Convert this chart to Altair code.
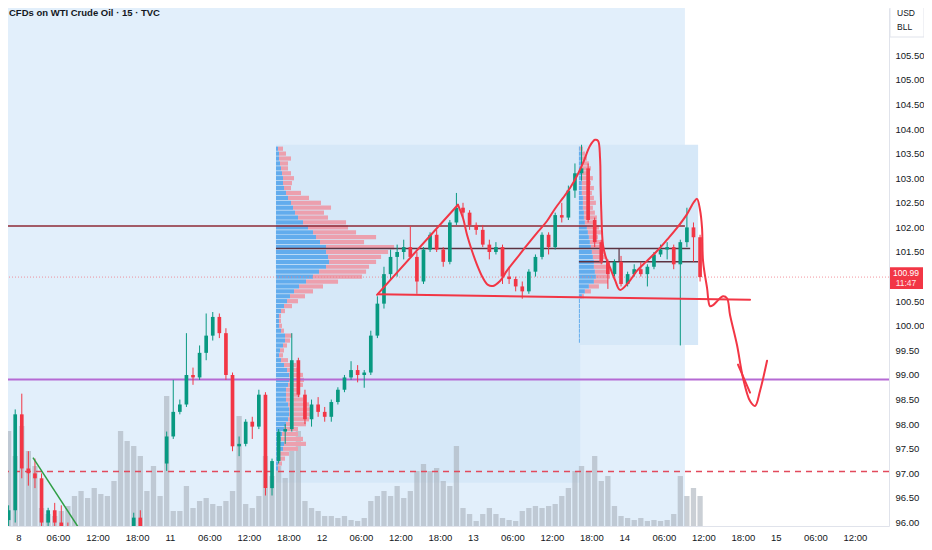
import altair as alt
import pandas as pd

# ---------------- data ----------------
# hourly candles, hour index in trading hours from "8" 00:00
hour_index = list(range(-2, 104))
opens = [96.05, 96.25, 98.20, 97.10, 97.00, 96.90, 96.00, 96.25, 96.00, 95.90,
         95.50, 95.40, 95.30, 95.25, 95.35, 95.50, 95.45, 95.60, 95.70, 95.65,
         96.10, 95.80, 95.50, 95.60, 97.20, 97.75, 98.25, 98.40, 99.00, 98.95,
         99.45, 99.80, 100.18, 99.85, 99.00, 97.55, 97.60, 98.05, 97.95, 98.60,
         96.70, 97.25, 97.85, 97.90, 99.30, 98.60, 98.10, 98.40, 98.25, 98.15,
         98.45, 98.70, 98.95, 99.10, 99.00, 99.05, 99.80, 100.45, 101.05, 101.40,
         101.50, 101.60, 101.40, 100.90, 101.55, 101.85, 101.55, 101.30, 102.10, 102.40,
         102.30, 102.05, 101.95, 101.65, 101.50, 101.60, 101.00, 100.95, 100.80, 100.70,
         101.10, 101.40, 101.85, 101.60, 102.25, 102.20, 102.75, 103.10, 103.20, 102.15,
         101.70, 101.30, 101.05, 101.30, 100.85, 101.05, 101.15, 101.05, 101.20, 101.45,
         101.55, 101.60, 101.25, 101.70, 102.00, 101.80]
highs = [96.35, 98.30, 98.62, 97.45, 97.30, 97.00, 96.30, 96.40, 96.35, 96.00,
         95.70, 95.60, 95.50, 95.45, 95.60, 95.70, 95.75, 95.85, 95.80, 96.20,
         96.25, 95.85, 95.70, 95.75, 97.85, 98.90, 98.50, 99.85, 99.15, 99.60,
         100.25, 100.28, 100.25, 99.95, 99.05, 97.75, 98.10, 98.15, 98.70, 98.65,
         97.30, 97.90, 98.00, 99.85, 99.35, 98.70, 98.50, 98.55, 98.35, 98.50,
         98.75, 99.00, 99.28, 99.20, 99.10, 99.90, 100.60, 101.20, 101.55, 101.65,
         101.75, 102.03, 101.50, 101.60, 101.90, 101.95, 101.60, 102.15, 102.70, 102.50,
         102.35, 102.10, 102.05, 101.75, 101.70, 101.65, 101.20, 101.00, 100.90, 101.15,
         101.45, 101.90, 101.90, 102.30, 102.50, 102.85, 103.30, 103.68, 103.30, 102.20,
         101.75, 101.35, 101.35, 101.42, 101.10, 101.25, 101.30, 101.25, 101.50, 101.65,
         101.70, 101.65, 101.75, 102.40, 102.10, 101.85]
lows = [95.90, 96.00, 96.90, 96.75, 96.70, 95.90, 95.75, 95.85, 95.80, 95.40,
        95.30, 95.20, 95.10, 95.05, 95.20, 95.30, 95.35, 95.40, 95.45, 95.60,
        95.70, 95.40, 95.30, 95.40, 97.05, 97.70, 98.20, 98.35, 98.80, 98.90,
        99.30, 99.70, 99.75, 98.90, 97.45, 97.35, 97.55, 97.70, 97.90, 96.55,
        96.55, 97.20, 97.60, 97.85, 98.55, 98.00, 97.95, 98.15, 98.05, 98.05,
        98.40, 98.65, 98.90, 98.85, 98.74, 99.00, 99.75, 100.35, 100.95, 101.00,
        101.35, 101.50, 100.65, 100.85, 101.50, 101.50, 101.20, 101.25, 102.05, 102.20,
        101.95, 101.85, 101.60, 101.35, 101.45, 100.85, 100.85, 100.70, 100.55, 100.65,
        101.00, 101.35, 101.45, 101.55, 102.10, 102.15, 102.60, 102.95, 102.10, 101.60,
        101.25, 100.75, 101.00, 100.80, 100.80, 101.00, 101.00, 100.80, 101.15, 101.40,
        101.35, 101.15, 99.60, 101.60, 101.30, 100.90]
closes = [96.25, 98.20, 97.10, 97.00, 96.90, 96.00, 96.25, 96.00, 95.90, 95.50,
          95.40, 95.30, 95.25, 95.35, 95.50, 95.45, 95.60, 95.70, 95.65, 96.10,
          95.80, 95.50, 95.60, 95.55, 97.75, 98.25, 98.40, 99.00, 98.95, 99.45,
          99.80, 100.18, 99.85, 99.00, 97.55, 97.60, 98.05, 97.95, 98.60, 96.70,
          97.25, 97.85, 97.90, 99.30, 98.60, 98.10, 98.40, 98.25, 98.15, 98.45,
          98.70, 98.95, 99.10, 99.00, 99.05, 99.80, 100.45, 101.05, 101.40, 101.50,
          101.60, 101.40, 100.90, 101.55, 101.85, 101.55, 101.30, 102.10, 102.40, 102.30,
          102.05, 101.95, 101.65, 101.50, 101.60, 101.00, 100.95, 100.80, 100.70, 101.10,
          101.40, 101.85, 101.60, 102.25, 102.20, 102.75, 103.10, 103.20, 102.15, 101.70,
          101.30, 101.05, 101.30, 100.85, 101.05, 101.15, 101.05, 101.20, 101.45, 101.55,
          101.60, 101.25, 101.70, 102.00, 101.80, 100.99]
volumes_k = [9.5, 7.0, 10.0, 7.5, 6.0, 1.8, 1.2, 1.0, 1.5, 2.0,
             3.0, 3.5, 2.8, 3.8, 3.2, 3.0, 4.5, 9.5, 8.5, 8.0,
             7.0, 3.5, 6.0, 3.0, 13.0, 1.5, 1.5, 4.0, 1.8, 2.5,
             2.8, 2.2, 2.0, 2.5, 3.5, 11.0, 2.2, 1.8, 3.0, 7.0,
             5.0, 6.0, 4.8, 7.5, 9.5, 2.5, 1.8, 1.5, 1.0, 1.0,
             0.8, 1.0, 0.6, 0.5, 0.8, 2.5, 3.0, 3.5, 3.0, 4.0,
             2.8, 3.5, 5.5, 6.2, 5.5, 5.8, 4.5, 4.0, 8.0, 1.8,
             1.2, 0.5, 1.2, 1.8, 1.2, 0.8, 0.6, 0.5, 1.5, 1.8,
             2.0, 1.8, 2.0, 2.2, 3.0, 3.8, 5.5, 6.0, 5.5, 7.0,
             4.5, 5.0, 2.0, 1.0, 0.8, 0.6, 0.8, 0.5, 0.6, 0.5,
             0.6, 1.2, 5.0, 3.0, 3.8, 3.0]

# volume profile 1 (anchored Mon 16:00) and 2 (anchored Wed 17:00)
vp1_anchor = 39.1
vp1_price = [round(103.6 - 0.1 * i, 1) for i in range(66)]
vp1_up = [2, 3, 3, 4, 5, 6, 7, 7, 8, 10, 12, 15, 17, 19, 22, 27, 32, 37, 40, 44,
          50, 50, 52, 53, 50, 43, 37, 30, 23, 18, 14, 11, 8, 5, 3, 3, 3, 5, 9, 9,
          7, 4, 3, 5, 8, 11, 13, 13, 12, 10, 10, 10, 12, 13, 13, 12, 10, 8, 6, 5,
          8, 7, 4, 3, 2, 2]
vp1_down = [5, 7, 12, 8, 7, 9, 11, 9, 7, 15, 21, 30, 38, 29, 30, 43, 40, 43, 60, 44,
            68, 62, 53, 47, 43, 47, 49, 32, 24, 19, 15, 11, 8, 4, 2, 2, 3, 3, 7, 5,
            4, 4, 4, 7, 12, 13, 14, 15, 15, 13, 14, 17, 21, 22, 21, 21, 20, 14, 16, 22,
            22, 15, 9, 6, 4, 2]
vp2_anchor = 85.1
vp2_price = [round(103.6 - 0.1 * i, 1) for i in range(40)]
vp2_up = [1, 2, 2, 3, 3, 3, 3, 3, 3, 3, 4, 4, 4, 5, 5, 6, 8, 9, 10, 11,
          12, 13, 14, 15, 15, 16, 17, 15, 10, 6, 3, 1, 1, 1, 1, 1, 1, 1, 1, 1]
vp2_down = [3, 4, 6, 7, 9, 8, 11, 9, 12, 10, 11, 13, 10, 11, 13, 11, 12, 13, 9, 13,
            10, 12, 13, 9, 13, 14, 14, 14, 10, 6, 2, 0, 0, 0, 0, 0, 0, 0, 0, 0]
VP_HOURS_PER_UNIT = 0.152

# horizontal levels drawn on the chart
seg_price = [102.03, 101.57, 101.30]
seg_start = [-1.6, 39.1, 85.1]
seg_end = [101.2, 102.0, 103.2]
seg_color = ["#8e2a36", "#5c3342", "#5c3342"]
purple_level = 98.91
dashed_level = 97.04
last_price = 100.99
last_time_label = "11:47"

# hand-drawn red annotations (time, price)
trend_h = [54.44, 66.74]
trend_p = [100.63, 102.46]
neck_h = [54.59, 111.09]
neck_p = [100.64, 100.53]
curve_h = [66.74, 67.50, 68.11, 68.87, 69.63, 70.54, 71.30, 72.06, 73.12, 74.18, 75.70,
           77.22, 78.74, 80.26, 81.47, 82.69, 83.75, 84.82, 85.73, 86.79, 87.55, 88.01,
           88.31, 88.40, 88.50, 88.76, 89.22, 89.83, 90.58, 91.34, 92.56, 93.93, 95.44,
           96.96, 98.48, 100.00, 101.52, 102.58, 103.04, 103.49, 103.80, 103.95, 104.56,
           105.01, 105.47, 106.08, 106.99, 107.59, 108.05, 109.11, 110.02, 111.09, 111.85,
           112.61, 113.67]
curve_p = [102.46, 102.19, 101.85, 101.52, 101.24, 100.97, 100.83, 100.81, 100.91, 101.12,
           101.38, 101.64, 101.89, 102.13, 102.38, 102.60, 102.80, 103.05, 103.31, 103.66,
           103.78, 103.76, 103.41, 102.80, 102.33, 101.64, 101.38, 101.18, 100.93, 100.73,
           100.87, 101.12, 101.32, 101.52, 101.75, 101.99, 102.27, 102.52, 102.58, 102.36,
           101.99, 101.32, 100.77, 100.40, 100.42, 100.50, 100.60, 100.56, 100.22, 99.61,
           98.94, 98.47, 98.37, 98.68, 99.29]
arm_h = [109.26, 111.09]
arm_p = [99.21, 98.64]
green_h = [2.20, 9.64]
green_p = [97.32, 95.79]

# session shading (time start/end, price top/bottom)
shade_start = [-1.6, 39.1, 85.1]
shade_end = [101.2, 85.3, 103.2]
shade_top = [106.46, 103.68, 103.68]
shade_bottom = [95.93, 96.81, 99.61]
shade_color = ["#e2effb", "#d6e8f8", "#d6e8f8"]

# axis ticks (101.00 and 106.00 are covered by the price tag / currency box)
tick_hours = [0, 6, 12, 18, 23, 29, 35, 41, 46, 52, 58, 64, 69, 75, 81, 87,
              92, 98, 104, 110, 115, 121, 127]
tick_labels = ["8", "06:00", "12:00", "18:00", "11", "06:00", "12:00", "18:00",
               "12", "06:00", "12:00", "18:00", "13", "06:00", "12:00", "18:00",
               "14", "06:00", "12:00", "18:00", "15", "06:00", "12:00"]
price_ticks = [96.0, 96.5, 97.0, 97.5, 98.0, 98.5, 99.0, 99.5, 100.0, 100.5,
               101.5, 102.0, 102.5, 103.0, 103.5, 104.0, 104.5, 105.0, 105.5]
title_text = "CFDs on WTI Crude Oil · 15 · TVC"
currency_text = "USD"
unit_text = "BLL"

# ---------------- tables ----------------
assert len(opens) == len(highs) == len(lows) == len(closes) == len(volumes_k) == len(hour_index)
candles = pd.DataFrame({"t": hour_index, "o": opens, "h": highs, "l": lows, "c": closes,
                        "v": volumes_k})
candles["mid"] = candles.t + 0.5
candles["b0"] = candles.t + 0.22
candles["b1"] = candles.t + 0.78
candles["v0"] = candles.t + 0.1
candles["v1"] = candles.t + 0.9
candles["dir"] = ["up" if c >= o else "down" for o, c in zip(opens, closes)]

rows = []
for anchor, prices, ups, downs in [(vp1_anchor, vp1_price, vp1_up, vp1_down),
                                   (vp2_anchor, vp2_price, vp2_up, vp2_down)]:
    for p, u, d in zip(prices, ups, downs):
        a = anchor
        b = anchor + u * VP_HOURS_PER_UNIT
        c = anchor + (u + d) * VP_HOURS_PER_UNIT
        rows.append({"x": a, "x2": b, "p1": p + 0.043, "p2": p - 0.043, "side": "up"})
        if d > 0:
            rows.append({"x": b, "x2": c, "p1": p + 0.043, "p2": p - 0.043, "side": "down"})
profile = pd.DataFrame(rows)

segs = pd.DataFrame({"p": seg_price, "x": seg_start, "x2": seg_end, "col": seg_color})
shades = pd.DataFrame({"x": shade_start, "x2": shade_end, "y": shade_top, "y2": shade_bottom,
                       "col": shade_color})

draw_rows = []
for name, hs, ps in [("trend", trend_h, trend_p), ("neck", neck_h, neck_p),
                     ("curve", curve_h, curve_p), ("arm", arm_h, arm_p)]:
    for i, (hh, pp) in enumerate(zip(hs, ps)):
        draw_rows.append({"id": name, "seq": i, "t": hh, "p": pp})
drawings = pd.DataFrame(draw_rows)
green = pd.DataFrame({"t": green_h, "p": green_p, "seq": [0, 1]})

# ---------------- scales / axes ----------------
W, H = 881, 518
XDOM = [-1.594, 132.19]
YDOM = [95.93, 106.46]
xs = alt.Scale(domain=XDOM, nice=False, zero=False)
ys = alt.Scale(domain=YDOM, nice=False, zero=False)
lab_js = "[" + ",".join("'%s'" % s for s in tick_labels) + "]"
val_js = "[" + ",".join(str(v) for v in tick_hours) + "]"
XAX = alt.Axis(values=tick_hours, labelExpr=f"{lab_js}[indexof({val_js}, datum.value)]",
               title=None, labelPadding=6, labelFlush=False)
YAX = alt.Axis(orient="right", values=price_ticks, format=".2f", title=None,
               labelPadding=6)


def X(f):
    return alt.X(f, type="quantitative", scale=xs, axis=XAX)


def Y(f, axis=None):
    return alt.Y(f, type="quantitative", scale=ys, axis=axis)


# ---------------- layers ----------------
bg = alt.Chart(shades).mark_rect(clip=True).encode(
    x=X("x"), x2="x2", y=Y("y"), y2="y2", color=alt.Color("col:N", scale=None))

vol = alt.Chart(candles).mark_rect(clip=True, color="#aab2bb", opacity=0.62).encode(
    x=X("v0"), x2="v1",
    y=alt.Y("v:Q", scale=alt.Scale(domain=[0, 51.8], nice=False), axis=None),
    y2=alt.datum(0))

prof = alt.Chart(profile).mark_rect(clip=True).encode(
    x=X("x"), x2="x2", y=Y("p1"), y2="p2",
    color=alt.Color("side:N", scale=alt.Scale(domain=["up", "down"],
                                              range=["#62aced", "#eca0ae"]), legend=None))

seg = alt.Chart(segs).mark_rule(strokeWidth=1.5, clip=True).encode(
    x=X("x"), x2="x2", y=Y("p"), color=alt.Color("col:N", scale=None))

vseg = alt.Chart(pd.DataFrame({"t": [91.2], "a": [seg_price[1]], "b": [seg_price[2]]})).mark_rule(
    strokeWidth=1.2, color="#5c3342", clip=True).encode(x=X("t"), y=Y("a"), y2="b")

purple = alt.Chart(pd.DataFrame({"p": [purple_level]})).mark_rule(
    color="#b56ad4", strokeWidth=2).encode(y=Y("p"))
dashed = alt.Chart(pd.DataFrame({"p": [dashed_level]})).mark_rule(
    color="#e24a5c", strokeWidth=1.5, strokeDash=[6, 5]).encode(y=Y("p"))
dotted = alt.Chart(pd.DataFrame({"p": [last_price]})).mark_rule(
    color="#f07a86", strokeWidth=1, strokeDash=[1, 2], opacity=0.8).encode(y=Y("p", YAX))

ccol = alt.Color("dir:N", scale=alt.Scale(domain=["up", "down"], range=["#089981", "#f23645"]),
                 legend=None)
wick = alt.Chart(candles).mark_rule(strokeWidth=1, clip=True).encode(
    x=X("mid"), y=Y("l"), y2="h", color=ccol)
body = alt.Chart(candles).mark_rect(clip=True).encode(
    x=X("b0"), x2="b1", y=Y("o"), y2="c", color=ccol)

draw = alt.Chart(drawings).mark_line(color="#f23645", strokeWidth=2, interpolate="catmull-rom",
                                     strokeCap="round", strokeJoin="round", clip=True).encode(
    x=X("t"), y=Y("p"), detail="id:N", order="seq:Q")
gline = alt.Chart(green).mark_line(color="#2f9e44", strokeWidth=1.5, clip=True).encode(
    x=X("t"), y=Y("p"), order="seq:Q")

box = pd.DataFrame({"top": [last_price + 0.20], "bot": [last_price - 0.24],
                    "mid": [last_price - 0.02],
                    "lab": [f"{last_price:.2f}"], "tm": [last_time_label]})
pbox = alt.Chart(box).mark_rect(color="#f23645", clip=False).encode(
    x=alt.value(W + 1), x2=alt.value(W + 34), y=Y("top"), y2="bot")
ptxt = alt.Chart(box).mark_text(color="white", fontSize=8.5, font="Liberation Sans", dy=-5,
                                align="center", baseline="middle").encode(
    x=alt.value(W + 17), y=Y("mid"), text="lab:N")
ttxt = alt.Chart(box).mark_text(color="#ffe6e8", fontSize=8.5, font="Liberation Sans", dy=5,
                                align="center", baseline="middle").encode(
    x=alt.value(W + 17), y=Y("mid"), text="tm:N")

one = pd.DataFrame({"a": [1]})
ubox = alt.Chart(one).mark_rect(fill="white", stroke="#e0e3eb", clip=False).encode(
    x=alt.value(W + 1), x2=alt.value(W + 35), y=alt.value(-1), y2=alt.value(29))
usd = alt.Chart(one).mark_text(text=currency_text, fontSize=8.5, font="Liberation Sans",
                               color="#131722", align="left", baseline="middle").encode(
    x=alt.value(W + 8), y=alt.value(5))
bll = alt.Chart(one).mark_text(text=unit_text, fontSize=8.5, font="Liberation Sans",
                               color="#131722", align="left", baseline="middle").encode(
    x=alt.value(W + 8), y=alt.value(19))

title = alt.Chart(one).mark_text(text=title_text, fontSize=9.5, font="Liberation Sans",
                                 fontWeight="bold", color="#131722", align="left",
                                 baseline="middle").encode(x=alt.value(1), y=alt.value(5))

chart = alt.layer(bg, vol, prof, seg, vseg, purple, dashed, dotted, wick, body, draw, gline,
                  pbox, ptxt, ttxt, ubox, usd, bll, title).resolve_scale(
    y="independent", color="independent").properties(
    width=W, height=H, autosize="none",
    padding={"left": 0, "top": 0, "right": 35, "bottom": 16}
).configure_view(stroke=None).configure_axis(
    labelFont="Liberation Sans", labelFontSize=9.5, labelColor="#131722", ticks=False,
    grid=False, domainColor="#e0e3eb")

chart.save("out.html", embed_options={"renderer": "svg", "actions": False})
